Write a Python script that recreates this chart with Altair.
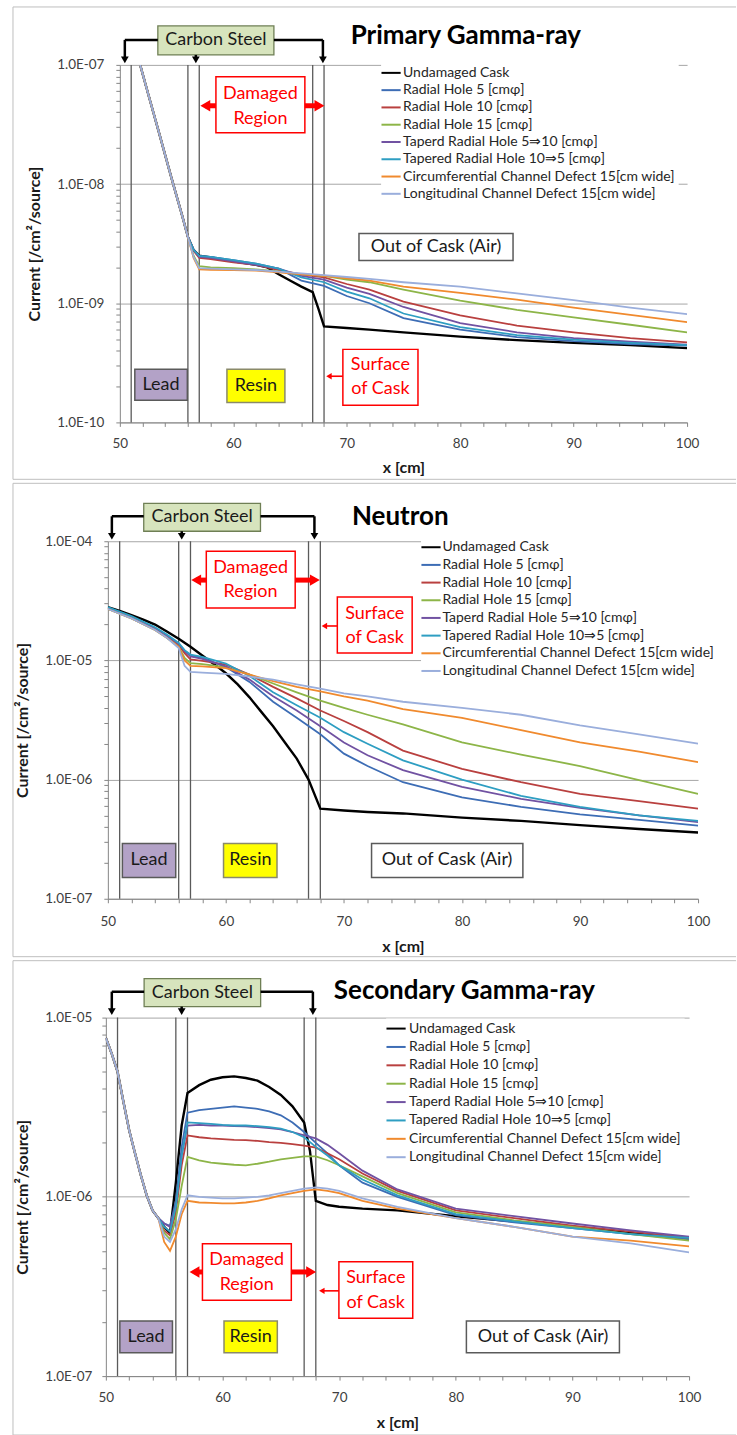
import altair as alt
import pandas as pd

# ---------------- series names / colours ----------------
SERIES = [
    "Undamaged Cask",
    "Radial Hole 5 [cmφ]",
    "Radial Hole 10 [cmφ]",
    "Radial Hole 15 [cmφ]",
    "Taperd Radial Hole 5⇒10 [cmφ]",
    "Tapered Radial Hole 10⇒5 [cmφ]",
    "Circumferential Channel Defect 15[cm wide]",
    "Longitudinal Channel Defect 15[cm wide]",
]
COLORS = ["#000000", "#3D6DB5", "#B9403F", "#8DB548", "#7152A2", "#2E9EC2", "#F08A2E", "#9AAEDC"]
BOUNDARIES = [51, 56, 57, 67, 68]
X_TICKS = list(range(50, 101, 2))

# ---------------- Panel 1 : Primary gamma-ray ----------------
P1_X_UNDAMAGED = [51.5, 52.5, 53.5, 54.5, 55.5, 56, 56.5, 57, 58, 60, 62, 63, 64, 65, 66, 67, 67.5, 68,
                  70, 72, 75, 80, 85, 90, 95, 100]
P1_UNDAMAGED = [1.26e-7, 5.7e-8, 2.6e-8, 1.17e-8, 5.4e-9, 3.6e-9, 2.8e-9, 2.5e-9, 2.42e-9, 2.25e-9, 2.1e-9,
                2.0e-9, 1.75e-9, 1.55e-9, 1.38e-9, 1.24e-9, 9.0e-10, 6.4e-10, 6.2e-10, 6.0e-10, 5.7e-10,
                5.25e-10, 4.9e-10, 4.65e-10, 4.45e-10, 4.2e-10]
P1_X = [51.5, 52.5, 53.5, 54.5, 55.5, 56, 56.5, 57, 58, 60, 62, 64, 66, 68, 70, 72, 75, 80, 85, 90, 95, 100]
P1_STEEP = [1.26e-7, 5.7e-8, 2.6e-8, 1.17e-8, 5.4e-9, 3.6e-9]
P1_RADIAL5 = P1_STEEP + [2.8e-9, 2.5e-9, 2.45e-9, 2.3e-9, 2.15e-9, 1.95e-9, 1.55e-9, 1.4e-9, 1.15e-9, 1.0e-9,
                         7.5e-10, 6.0e-10, 5.2e-10, 4.8e-10, 4.55e-10, 4.4e-10]
P1_RADIAL10 = P1_STEEP + [2.75e-9, 2.4e-9, 2.35e-9, 2.2e-9, 2.1e-9, 1.9e-9, 1.75e-9, 1.65e-9, 1.45e-9, 1.3e-9,
                          1.03e-9, 7.9e-10, 6.5e-10, 5.7e-10, 5.1e-10, 4.7e-10]
P1_RADIAL15 = P1_STEEP + [2.5e-9, 2.05e-9, 2.0e-9, 1.97e-9, 1.92e-9, 1.85e-9, 1.75e-9, 1.7e-9, 1.58e-9, 1.5e-9,
                          1.3e-9, 1.05e-9, 8.8e-10, 7.6e-10, 6.6e-10, 5.7e-10]
P1_TAPER510 = P1_STEEP + [2.8e-9, 2.45e-9, 2.4e-9, 2.25e-9, 2.1e-9, 1.95e-9, 1.7e-9, 1.58e-9, 1.35e-9, 1.2e-9,
                          9.3e-10, 6.8e-10, 5.7e-10, 5.1e-10, 4.75e-10, 4.5e-10]
P1_TAPER105 = P1_STEEP + [2.8e-9, 2.5e-9, 2.45e-9, 2.3e-9, 2.15e-9, 1.95e-9, 1.65e-9, 1.5e-9, 1.25e-9, 1.1e-9,
                          8.2e-10, 6.3e-10, 5.4e-10, 4.95e-10, 4.65e-10, 4.45e-10]
P1_CIRCUM = P1_STEEP + [2.4e-9, 1.92e-9, 1.91e-9, 1.9e-9, 1.88e-9, 1.82e-9, 1.75e-9, 1.7e-9, 1.62e-9, 1.55e-9,
                        1.38e-9, 1.22e-9, 1.07e-9, 9.2e-10, 8.0e-10, 6.95e-10]
P1_LONGIT = P1_STEEP + [2.45e-9, 1.97e-9, 1.95e-9, 1.92e-9, 1.9e-9, 1.84e-9, 1.78e-9, 1.72e-9, 1.66e-9, 1.6e-9,
                        1.5e-9, 1.38e-9, 1.21e-9, 1.06e-9, 9.2e-10, 8.1e-10]

# ---------------- Panel 2 : Neutron ----------------
P2_X_UNDAMAGED = [50, 51, 52, 53, 54, 55, 56, 57, 58, 59, 60, 61, 62, 63, 64, 65, 66, 67, 68, 70, 72, 75, 80,
                  85, 90, 95, 100]
P2_UNDAMAGED = [2.8e-5, 2.6e-5, 2.4e-5, 2.2e-5, 2.0e-5, 1.75e-5, 1.52e-5, 1.3e-5, 1.1e-5, 9.3e-6, 7.8e-6,
                6.3e-6, 4.9e-6, 3.7e-6, 2.8e-6, 2.05e-6, 1.5e-6, 1.0e-6, 5.7e-7, 5.5e-7, 5.35e-7, 5.2e-7,
                4.8e-7, 4.5e-7, 4.15e-7, 3.85e-7, 3.6e-7]
P2_X = [50, 52, 54, 55, 56, 56.5, 57, 58, 60, 62, 64, 66, 68, 70, 72, 75, 80, 85, 90, 95, 100]
P2_RADIAL5 = [2.75e-5, 2.3e-5, 1.85e-5, 1.6e-5, 1.35e-5, 1.2e-5, 1.1e-5, 1.05e-5, 8.8e-6, 6.6e-6, 4.5e-6,
              3.3e-6, 2.4e-6, 1.65e-6, 1.3e-6, 9.5e-7, 7.1e-7, 5.9e-7, 5.1e-7, 4.6e-7, 4.1e-7]
P2_RADIAL10 = [2.75e-5, 2.3e-5, 1.85e-5, 1.6e-5, 1.35e-5, 1.15e-5, 1.02e-5, 9.9e-6, 9.2e-6, 7.6e-6, 6.0e-6,
               4.8e-6, 3.8e-6, 3.1e-6, 2.5e-6, 1.75e-6, 1.23e-6, 9.5e-7, 7.6e-7, 6.6e-7, 5.7e-7]
P2_RADIAL15 = [2.7e-5, 2.25e-5, 1.8e-5, 1.55e-5, 1.3e-5, 1.05e-5, 9.5e-6, 9.3e-6, 8.8e-6, 7.6e-6, 6.4e-6,
               5.4e-6, 4.6e-6, 4.0e-6, 3.5e-6, 2.9e-6, 2.05e-6, 1.62e-6, 1.3e-6, 9.9e-7, 7.6e-7]
P2_TAPER510 = [2.75e-5, 2.3e-5, 1.85e-5, 1.6e-5, 1.38e-5, 1.2e-5, 1.08e-5, 1.03e-5, 8.9e-6, 6.9e-6, 5.0e-6,
               3.8e-6, 2.8e-6, 2.05e-6, 1.6e-6, 1.2e-6, 8.7e-7, 6.9e-7, 5.8e-7, 5.0e-7, 4.4e-7]
P2_TAPER105 = [2.8e-5, 2.35e-5, 1.9e-5, 1.65e-5, 1.4e-5, 1.22e-5, 1.12e-5, 1.07e-5, 9.4e-6, 7.4e-6, 5.4e-6,
               4.2e-6, 3.3e-6, 2.5e-6, 2.0e-6, 1.45e-6, 1.0e-6, 7.3e-7, 5.9e-7, 5.0e-7, 4.5e-7]
P2_CIRCUM = [2.7e-5, 2.25e-5, 1.8e-5, 1.55e-5, 1.3e-5, 1.0e-5, 9.0e-6, 8.9e-6, 8.6e-6, 7.6e-6, 6.7e-6,
             6.0e-6, 5.5e-6, 5.0e-6, 4.6e-6, 3.9e-6, 3.3e-6, 2.6e-6, 2.05e-6, 1.72e-6, 1.4e-6]
P2_LONGIT = [2.7e-5, 2.25e-5, 1.8e-5, 1.55e-5, 1.27e-5, 9.0e-6, 8.0e-6, 7.9e-6, 7.7e-6, 7.3e-6, 6.9e-6,
             6.3e-6, 5.8e-6, 5.3e-6, 5.0e-6, 4.5e-6, 4.0e-6, 3.5e-6, 2.85e-6, 2.4e-6, 2.0e-6]

# ---------------- Panel 3 : Secondary gamma-ray ----------------
P3_X_UNDAMAGED = [50, 50.5, 51, 51.5, 52, 52.5, 53, 53.5, 54, 54.5, 55, 55.5, 56, 56.5, 57, 58, 59, 60, 61,
                  62, 63, 64, 65, 66, 67, 67.5, 68, 69, 70, 72, 75, 80, 85, 90, 95, 100]
P3_X = [50, 50.5, 51, 51.5, 52, 52.5, 53, 53.5, 54, 54.5, 55, 55.5, 56, 56.5, 57, 58, 59, 60, 61, 62, 63,
        64, 65, 66, 67, 68, 69, 70, 72, 75, 80, 85, 90, 95, 100]
P3_LEAD = [7.7e-6, 6.3e-6, 5.0e-6, 3.4e-6, 2.35e-6, 1.75e-6, 1.32e-6, 1.02e-6, 8.4e-7, 7.6e-7]
P3_UNDAMAGED = P3_LEAD + [6.8e-7, 6.3e-7, 1.2e-6, 2.5e-6, 3.8e-6, 4.2e-6, 4.5e-6, 4.65e-6, 4.7e-6, 4.6e-6,
                          4.45e-6, 4.1e-6, 3.7e-6, 3.2e-6, 2.6e-6, 1.8e-6, 9.5e-7, 9.0e-7, 8.8e-7, 8.6e-7,
                          8.4e-7, 7.8e-7, 7.3e-7, 6.8e-7, 6.3e-7, 5.9e-7]
P3_RADIAL5 = P3_LEAD + [7.1e-7, 6.9e-7, 9.5e-7, 1.9e-6, 2.95e-6, 3.05e-6, 3.1e-6, 3.15e-6, 3.2e-6, 3.15e-6,
                        3.1e-6, 3.0e-6, 2.85e-6, 2.6e-6, 2.3e-6, 2.0e-6, 1.75e-6, 1.5e-6, 1.2e-6, 1.0e-6,
                        7.9e-7, 7.2e-7, 6.7e-7, 6.2e-7, 5.8e-7]
P3_RADIAL10 = P3_LEAD + [6.5e-7, 6.1e-7, 8.2e-7, 1.5e-6, 2.2e-6, 2.15e-6, 2.12e-6, 2.1e-6, 2.08e-6, 2.07e-6,
                         2.05e-6, 2.02e-6, 2.0e-6, 1.97e-6, 1.93e-6, 1.88e-6, 1.75e-6, 1.62e-6, 1.35e-6,
                         1.08e-6, 8.4e-7, 7.6e-7, 6.9e-7, 6.4e-7, 5.9e-7]
P3_RADIAL15 = P3_LEAD + [6.3e-7, 5.8e-7, 7.5e-7, 1.15e-6, 1.67e-6, 1.6e-6, 1.55e-6, 1.53e-6, 1.51e-6, 1.5e-6,
                         1.53e-6, 1.57e-6, 1.62e-6, 1.65e-6, 1.68e-6, 1.68e-6, 1.6e-6, 1.5e-6, 1.3e-6,
                         1.05e-6, 8.2e-7, 7.4e-7, 6.8e-7, 6.2e-7, 5.7e-7]
P3_TAPER510 = P3_LEAD + [7.1e-7, 6.8e-7, 9.0e-7, 1.7e-6, 2.5e-6, 2.52e-6, 2.5e-6, 2.5e-6, 2.48e-6, 2.47e-6,
                         2.45e-6, 2.42e-6, 2.38e-6, 2.3e-6, 2.2e-6, 2.12e-6, 1.95e-6, 1.75e-6, 1.4e-6, 1.1e-6,
                         8.6e-7, 7.8e-7, 7.1e-7, 6.5e-7, 6.0e-7]
P3_TAPER105 = P3_LEAD + [6.8e-7, 6.4e-7, 8.8e-7, 1.7e-6, 2.6e-6, 2.58e-6, 2.55e-6, 2.52e-6, 2.5e-6, 2.5e-6,
                         2.48e-6, 2.45e-6, 2.4e-6, 2.3e-6, 2.15e-6, 1.9e-6, 1.7e-6, 1.5e-6, 1.25e-6, 1.02e-6,
                         8.0e-7, 7.3e-7, 6.7e-7, 6.2e-7, 5.9e-7]
P3_CIRCUM = P3_LEAD + [5.6e-7, 5.0e-7, 6.0e-7, 8.0e-7, 9.5e-7, 9.3e-7, 9.25e-7, 9.2e-7, 9.2e-7, 9.3e-7,
                       9.5e-7, 9.8e-7, 1.02e-6, 1.05e-6, 1.08e-6, 1.1e-6, 1.08e-6, 1.05e-6, 9.5e-7, 8.6e-7,
                       7.6e-7, 6.8e-7, 6.0e-7, 5.7e-7, 5.3e-7]
P3_LONGIT = P3_LEAD + [6.0e-7, 5.6e-7, 6.6e-7, 8.5e-7, 1.02e-6, 1.0e-6, 9.9e-7, 9.8e-7, 9.8e-7, 9.9e-7,
                       1.0e-6, 1.02e-6, 1.05e-6, 1.08e-6, 1.11e-6, 1.13e-6, 1.11e-6, 1.08e-6, 9.8e-7, 8.8e-7,
                       7.6e-7, 6.8e-7, 6.0e-7, 5.5e-7, 4.9e-7]

P1_DATA = [(SERIES[0], P1_X_UNDAMAGED, P1_UNDAMAGED), (SERIES[1], P1_X, P1_RADIAL5),
           (SERIES[2], P1_X, P1_RADIAL10), (SERIES[3], P1_X, P1_RADIAL15), (SERIES[4], P1_X, P1_TAPER510),
           (SERIES[5], P1_X, P1_TAPER105), (SERIES[6], P1_X, P1_CIRCUM), (SERIES[7], P1_X, P1_LONGIT)]
P2_DATA = [(SERIES[0], P2_X_UNDAMAGED, P2_UNDAMAGED), (SERIES[1], P2_X, P2_RADIAL5),
           (SERIES[2], P2_X, P2_RADIAL10), (SERIES[3], P2_X, P2_RADIAL15), (SERIES[4], P2_X, P2_TAPER510),
           (SERIES[5], P2_X, P2_TAPER105), (SERIES[6], P2_X, P2_CIRCUM), (SERIES[7], P2_X, P2_LONGIT)]
P3_DATA = [(SERIES[0], P3_X_UNDAMAGED, P3_UNDAMAGED), (SERIES[1], P3_X, P3_RADIAL5),
           (SERIES[2], P3_X, P3_RADIAL10), (SERIES[3], P3_X, P3_RADIAL15), (SERIES[4], P3_X, P3_TAPER510),
           (SERIES[5], P3_X, P3_TAPER105), (SERIES[6], P3_X, P3_CIRCUM), (SERIES[7], P3_X, P3_LONGIT)]


def decade_ticks(lo, hi):
    return [m * 10.0 ** e for e in range(lo, hi) for m in range(1, 10)] + [10.0 ** hi]


# ---------------- layout of each panel (annotation positions) ----------------
LAYOUT = [
    dict(width=568, height=358, spacer=15, ydomain=[1e-10, 1e-7], yticks=decade_ticks(-10, -7),
         frame=(-107, 617, -58, 415), title=("Primary Gamma-ray", 80.5, -29),
         carbon=(53.35, 63.58, -39, -10, 58.47, -24.5), bracket=(50.44, 56.7, 67.9, -25, -1),
         damaged=dict(box=(58.47, 66.31, 7.94e-8, 2.69e-8), cx=62.39, lines=(5.71e-8, 3.53e-8),
                      av=4.54e-8, tips=(57.05, 68.08)),
         surface=dict(box=(69.66, 76.28, 4.1e-10, 1.39e-10), cx=72.97, lines=(3.01e-10, 1.9e-10),
                      av=2.44e-10, tip=68.17),
         lead=(51.32, 55.95, 2.79e-10, 1.535e-10, 53.63, 2.07e-10),
         resin=(59.44, 64.55, 2.79e-10, 1.47e-10, 61.99, 2.03e-10),
         out=(71.08, 84.66, 3.85e-9, 2.28e-9, 77.87, 2.96e-9),
         legend=(261.6, -2, 3.3, 5), ppc=11.34, xlab=(10, 10), ylab=(12, 14)),
    dict(width=591, height=358, spacer=3, ydomain=[1e-7, 1e-4], yticks=decade_ticks(-7, -4),
         frame=(-95, 629, -58, 416), title=("Neutron", 74.77, -24),
         carbon=(53.04, 62.93, -38, -10, 57.99, -24), bracket=(50.34, 56.26, 67.5, -25, -1),
         damaged=dict(box=(58.34, 65.87, 8.25e-5, 2.75e-5), cx=62.09, lines=(5.94e-5, 3.74e-5),
                      av=4.72e-5, tips=(57.02, 68.0)),
         surface=dict(box=(69.44, 75.78, 3.4e-5, 1.156e-5), cx=72.61, lines=(2.45e-5, 1.54e-5),
                      av=1.945e-5, tip=68.09),
         lead=(51.23, 55.75, 2.91e-7, 1.51e-7, 53.49, 2.1e-7),
         resin=(59.8, 64.33, 2.91e-7, 1.51e-7, 62.07, 2.1e-7),
         out=(72.34, 85.16, 2.91e-7, 1.51e-7, 78.74, 2.1e-7),
         legend=(313.6, -4, 3.7, 4.4), ppc=11.83, xlab=(11.5, 11), ylab=(12, 14)),
    dict(width=584, height=359, spacer=1, ydomain=[1e-7, 1e-5], yticks=decade_ticks(-7, -5),
         frame=(-93, 631, -57, 418), title=("Secondary Gamma-ray", 80.74, -27),
         carbon=(53.28, 63.27, -39, -11, 58.28, -25), bracket=(50.51, 56.5, 67.75, -26, -2),
         damaged=dict(box=(58.28, 65.9, 5.47e-7, 2.65e-7), cx=62.07, lines=(4.43e-7, 3.21e-7),
                      av=3.81e-7, tips=(57.13, 68.07)),
         surface=dict(box=(69.98, 76.31, 4.34e-7, 2.1e-7), cx=73.14, lines=(3.53e-7, 2.56e-7),
                      av=2.99e-7, tip=68.26),
         lead=(51.2, 55.71, 2.03e-7, 1.35e-7, 53.45, 1.66e-7),
         resin=(60.13, 64.7, 2.03e-7, 1.35e-7, 62.41, 1.66e-7),
         out=(80.91, 94.03, 2.03e-7, 1.35e-7, 87.47, 1.66e-7),
         legend=(280.6, 1, 4.4, 6), ppc=11.68, xlab=(10, 11), ylab=(10, 14)),
]

FONT = "Lato"
RED = "#FF0000"
IS_DECADE = "abs(log(datum.value)/LN10 - round(log(datum.value)/LN10)) < 0.01"
Y_LABEL = ("(" + IS_DECADE + ") ? ('1.0E-' + (round(-log(datum.value)/LN10) < 10 ? '0' : '') + "
           "round(-log(datum.value)/LN10)) : ''")


def long_df(entries):
    rows = []
    for name, xs, vs in entries:
        rows += [{"series": name, "x": a, "v": b} for a, b in zip(xs, vs)]
    return pd.DataFrame(rows)


def panel(entries, L):
    W, H, ppc = L["width"], L["height"], L["ppc"]
    xscale = alt.Scale(domain=[50, 100], nice=False, zero=False)
    yscale = alt.Scale(type="log", domain=L["ydomain"], nice=False)
    xaxis = alt.Axis(values=X_TICKS, labelExpr="datum.value % 10 === 0 ? datum.value : ''", grid=False,
                     tickSize=4, labelPadding=L["xlab"][0], titlePadding=L["xlab"][1], labelFlush=False,
                     labelOverlap=False)
    yaxis = alt.Axis(values=L["yticks"], labelExpr=Y_LABEL, grid=True,
                     gridOpacity={"condition": {"test": IS_DECADE, "value": 1}, "value": 0},
                     tickSize=4, labelPadding=L["ylab"][0], titlePadding=L["ylab"][1], labelOverlap=False)

    def X(f):
        return alt.X(f, scale=xscale, axis=xaxis, title="x [cm]")

    def Y(f):
        return alt.Y(f, scale=yscale, axis=yaxis, title="Current [/cm²/source]")

    one = pd.DataFrame({"k": [0]})
    fx0, fx1, fy0, fy1 = L["frame"]
    frame_top = alt.Chart(one).mark_rule(color="#BFBFBF", strokeWidth=1).encode(
        x=alt.value(fx0), x2=alt.value(fx1), y=alt.value(fy0))
    frame_bottom = alt.Chart(one).mark_rule(color="#BFBFBF", strokeWidth=1).encode(
        x=alt.value(fx0), x2=alt.value(fx1), y=alt.value(fy1))
    frame_left = alt.Chart(one).mark_rule(color="#BFBFBF", strokeWidth=1).encode(
        x=alt.value(fx0), y=alt.value(fy0), y2=alt.value(fy1))

    rules = alt.Chart(pd.DataFrame({"b": BOUNDARIES})).mark_rule(color="#5A5A5A", strokeWidth=1.3).encode(
        x=X("b:Q"), y=alt.value(0), y2=alt.value(H))

    lx, ly, rowpad, loff = L["legend"]
    lines = alt.Chart(long_df(entries)).mark_line(clip=True).encode(
        x=X("x:Q"), y=Y("v:Q"),
        color=alt.Color("series:N", scale=alt.Scale(domain=SERIES, range=COLORS),
                        legend=alt.Legend(orient="none", legendX=lx, legendY=ly, title=None,
                                          symbolType="M-1.6,0L1.6,0", symbolSize=144, symbolStrokeWidth=2,
                                          labelFont=FONT, labelFontSize=14, labelColor="#262626",
                                          labelLimit=400, labelOffset=loff, rowPadding=rowpad, padding=3,
                                          fillColor="white")),
        strokeWidth=alt.condition(alt.datum.series == SERIES[0], alt.value(2.4), alt.value(1.8)),
    )

    d, s = L["damaged"], L["surface"]
    boxes_df = pd.DataFrame([
        dict(x=d["box"][0], x2=d["box"][1], v=d["box"][2], v2=d["box"][3], fill="white", stroke=RED),
        dict(x=s["box"][0], x2=s["box"][1], v=s["box"][2], v2=s["box"][3], fill="white", stroke=RED),
        dict(x=L["lead"][0], x2=L["lead"][1], v=L["lead"][2], v2=L["lead"][3], fill="#B3A2C7",
             stroke="#5A5A5A"),
        dict(x=L["resin"][0], x2=L["resin"][1], v=L["resin"][2], v2=L["resin"][3], fill="#FFFF00",
             stroke="#8A8A6A"),
        dict(x=L["out"][0], x2=L["out"][1], v=L["out"][2], v2=L["out"][3], fill="white", stroke="#5A5A5A"),
    ])
    boxes = alt.Chart(boxes_df).mark_rect(strokeWidth=1.5).encode(
        x=X("x:Q"), x2="x2:Q", y=Y("v:Q"), y2="v2:Q",
        fill=alt.Fill("fill:N", scale=None), stroke=alt.Stroke("stroke:N", scale=None))

    texts_df = pd.DataFrame([
        dict(x=d["cx"], v=d["lines"][0], t="Damaged", c=RED),
        dict(x=d["cx"], v=d["lines"][1], t="Region", c=RED),
        dict(x=s["cx"], v=s["lines"][0], t="Surface", c=RED),
        dict(x=s["cx"], v=s["lines"][1], t="of Cask", c=RED),
        dict(x=L["lead"][4], v=L["lead"][5], t="Lead", c="#1A1A1A"),
        dict(x=L["resin"][4], v=L["resin"][5], t="Resin", c="#1A1A1A"),
        dict(x=L["out"][4], v=L["out"][5], t="Out of Cask (Air)", c="#1A1A1A"),
    ])
    texts = alt.Chart(texts_df).mark_text(font=FONT, fontSize=18, baseline="middle", align="center").encode(
        x=X("x:Q"), y=Y("v:Q"), text="t:N", fill=alt.Fill("c:N", scale=None))

    rb, rs = 5.5 / ppc, 3.0 / ppc
    shafts_df = pd.DataFrame([
        dict(x=d["box"][0], x2=d["tips"][0] + rb, v=d["av"], w=5),
        dict(x=d["box"][1], x2=d["tips"][1] - rb, v=d["av"], w=5),
        dict(x=s["box"][0], x2=s["tip"] + rs, v=s["av"], w=1.6),
    ])
    shafts = alt.Chart(shafts_df).mark_rule(color=RED).encode(
        x=X("x:Q"), x2="x2:Q", y=Y("v:Q"), strokeWidth=alt.StrokeWidth("w:Q", scale=None))
    heads_df = pd.DataFrame([
        dict(x=d["tips"][0] + rb, v=d["av"], shape="triangle-left", size=130),
        dict(x=d["tips"][1] - rb, v=d["av"], shape="triangle-right", size=130),
        dict(x=s["tip"] + rs, v=s["av"], shape="triangle-left", size=40),
    ])
    heads = alt.Chart(heads_df).mark_point(filled=True, color=RED, opacity=1).encode(
        x=X("x:Q"), y=Y("v:Q"), shape=alt.Shape("shape:N", scale=None), size=alt.Size("size:Q", scale=None))

    ca, cb, cy0, cy1, ctx, cty = L["carbon"]
    tl, tm, tr, yl, yt = L["bracket"]
    carbon_rect = alt.Chart(pd.DataFrame({"x": [ca], "x2": [cb]})).mark_rect(
        fill="#D7E4BD", stroke="#6F7F55", strokeWidth=1.3).encode(
        x=X("x:Q"), x2="x2:Q", y=alt.value(cy0), y2=alt.value(cy1))
    carbon_text = alt.Chart(pd.DataFrame({"x": [ctx], "t": ["Carbon Steel"]})).mark_text(
        font=FONT, fontSize=18, color="#1A1A1A", baseline="middle").encode(
        x=X("x:Q"), y=alt.value(cty), text="t:N")
    hseg = alt.Chart(pd.DataFrame({"x": [tl, cb], "x2": [ca, tr]})).mark_rule(
        color="black", strokeWidth=2.5).encode(x=X("x:Q"), x2="x2:Q", y=alt.value(yl))
    vside = alt.Chart(pd.DataFrame({"x": [tl, tr]})).mark_rule(color="black", strokeWidth=2.5).encode(
        x=X("x:Q"), y=alt.value(yl), y2=alt.value(yt - 5))
    vmid = alt.Chart(pd.DataFrame({"x": [tm]})).mark_rule(color="black", strokeWidth=2.5).encode(
        x=X("x:Q"), y=alt.value(cy1), y2=alt.value(yt - 5))
    bheads = alt.Chart(pd.DataFrame({"x": [tl, tm, tr]})).mark_point(
        shape="triangle-down", filled=True, color="black", size=60, opacity=1).encode(
        x=X("x:Q"), y=alt.value(yt - 4))
    ttxt, tx, ty = L["title"]
    title = alt.Chart(pd.DataFrame({"x": [tx], "t": [ttxt]})).mark_text(
        font=FONT, fontSize=26, fontWeight="bold", color="black", baseline="middle").encode(
        x=X("x:Q"), y=alt.value(ty), text="t:N")

    return alt.layer(frame_top, frame_bottom, frame_left, rules, lines, boxes, texts, shafts, heads,
                     carbon_rect, carbon_text, hseg, vside, vmid, bheads, title).properties(width=W, height=H)


def spacer(w, h):
    return alt.Chart(pd.DataFrame({"k": [0]})).mark_point(opacity=0).encode(
        x=alt.value(0), y=alt.value(0)).properties(width=w, height=h)


rows = []
for data, L in zip([P1_DATA, P2_DATA, P3_DATA], LAYOUT):
    rows.append(alt.hconcat(spacer(L["spacer"], L["height"]), panel(data, L), spacing=0, bounds="flush")
                .resolve_scale(x="independent", y="independent", color="independent"))

chart = (
    alt.vconcat(*rows, spacing=2, bounds="full")
    .resolve_scale(x="independent", y="independent", color="independent")
    .resolve_legend(color="independent")
    .properties(padding={"left": 12, "top": 5, "right": 0, "bottom": 1}, background="white")
    .configure_view(strokeWidth=0)
    .configure_axis(labelFont=FONT, labelFontSize=13.5, labelColor="#404040", titleFont=FONT,
                    titleFontSize=16, titleFontWeight="bold", titleColor="#1A1A1A",
                    domainColor="#868686", tickColor="#868686", gridColor="#A6A6A6", gridWidth=1)
)

chart.save("out.html", embed_options={"renderer": "svg", "actions": False})
